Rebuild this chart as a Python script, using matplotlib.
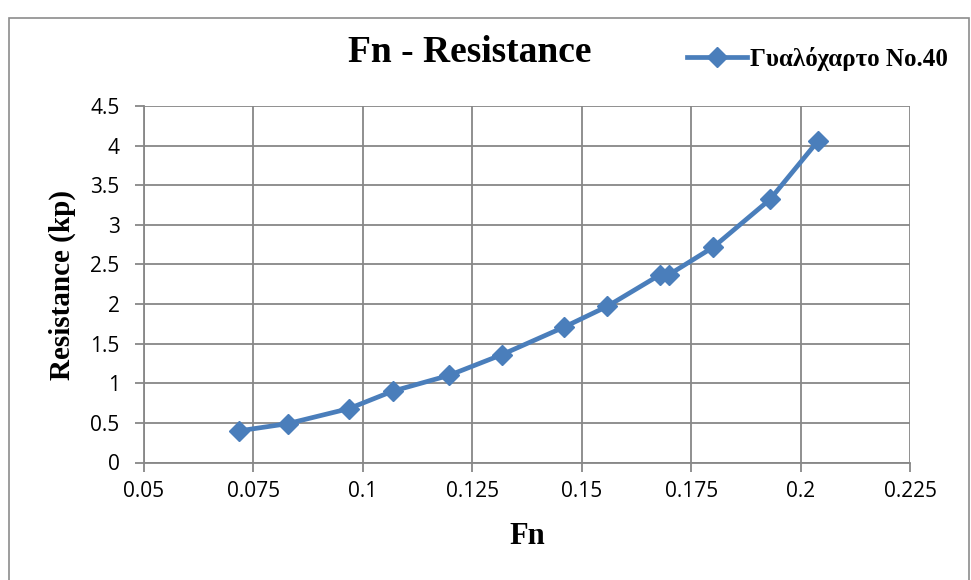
import matplotlib.pyplot as plt
from matplotlib.patches import Rectangle

# Froude number vs measured resistance, sandpaper No.40
fn = [0.0718, 0.0828, 0.0968, 0.1068, 0.1197, 0.1317, 0.146,
      0.1558, 0.1679, 0.1699, 0.1801, 0.193, 0.204]
resistance = [0.40, 0.49, 0.68, 0.90, 1.10, 1.36, 1.71,
              1.97, 2.37, 2.37, 2.72, 3.32, 4.06]
series_name = "Γυαλόχαρτο No.40"

x_ticks = [0.05, 0.075, 0.1, 0.125, 0.15, 0.175, 0.2, 0.225]
x_labels = ["0.05", "0.075", "0.1", "0.125", "0.15", "0.175", "0.2", "0.225"]
y_ticks = [0, 0.5, 1, 1.5, 2, 2.5, 3, 3.5, 4, 4.5]
y_labels = ["0", "0.5", "1", "1.5", "2", "2.5", "3", "3.5", "4", "4.5"]

blue = "#4a7ebb"
grid_col = "#878787"
serif = "Liberation Serif"
sans = "Open Sans"

fig = plt.figure(figsize=(9.71, 5.80), dpi=100)
ax = fig.add_axes([144 / 971, 1 - 462.5 / 580, 766 / 971, 356.5 / 580])

# chart border
fig.patches.append(Rectangle((9 / 971, -0.1), 960 / 971, 1.1 - 18 / 580,
                             transform=fig.transFigure, fill=False,
                             edgecolor="#8c8c8c", linewidth=1.2))

ax.plot(fn, resistance, color=blue, linewidth=3.4, marker="D",
        markersize=10.5, markerfacecolor=blue, markeredgecolor=blue,
        label=series_name, zorder=3)

ax.set_xlim(0.05, 0.225)
ax.set_ylim(0, 4.5)
ax.set_xticks(x_ticks)
ax.set_xticklabels(x_labels, fontfamily=sans, fontsize=15)
ax.set_yticks(y_ticks)
ax.set_yticklabels(y_labels, fontfamily=sans, fontsize=15)
ax.tick_params(direction="out", length=6.5, width=1.3, color=grid_col)
ax.tick_params(axis="x", pad=7)
ax.tick_params(axis="y", pad=11)
ax.grid(True, color=grid_col, linewidth=1.3)
ax.set_axisbelow(True)
for side in ax.spines:
    ax.spines[side].set_visible(False)
for side in ["left", "bottom"]:
    ax.spines[side].set_visible(True)
    ax.spines[side].set_color(grid_col)
    ax.spines[side].set_linewidth(1.3)

ax.set_xlabel("Fn", fontfamily=serif, fontweight="bold", fontsize=22)
ax.xaxis.set_label_coords(527 / 971, 1 - 537 / 580, transform=fig.transFigure)
ax.xaxis.label.set_va("center")
ax.set_ylabel("Resistance (kp)", fontfamily=serif, fontweight="bold", fontsize=21)
ax.yaxis.set_label_coords(62 / 971, 1 - 285 / 580, transform=fig.transFigure)
ax.yaxis.label.set_va("center")

fig.text(470 / 971, 1 - 53 / 580, "Fn - Resistance", fontfamily=serif,
         fontweight="bold", fontsize=27, ha="center", va="center")

leg = ax.legend(loc="center left", bbox_to_anchor=(687 / 971, 1 - 59 / 580),
                bbox_transform=fig.transFigure, frameon=False,
                prop={"family": serif, "weight": "bold", "size": 18},
                handlelength=2.4, handletextpad=0.1, borderpad=0,
                borderaxespad=0)

fig.savefig("out.png", dpi=100)
